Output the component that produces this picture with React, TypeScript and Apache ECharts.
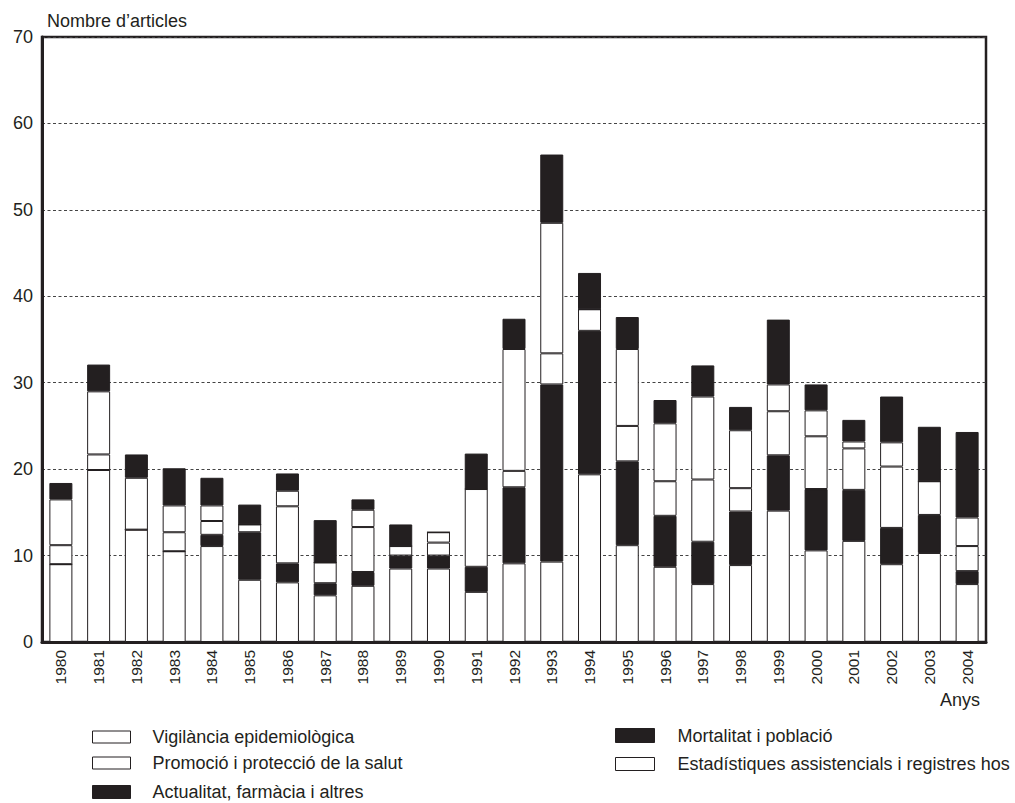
import React, { useEffect, useRef } from "react";
import * as echarts from "echarts";

const years = [
  "1980", "1981", "1982", "1983", "1984", "1985", "1986", "1987", "1988", "1989",
  "1990", "1991", "1992", "1993", "1994", "1995", "1996", "1997", "1998", "1999",
  "2000", "2001", "2002", "2003", "2004",
];

// Stack order, bottom to top
const vigilancia = [9.0, 19.9, 13.0, 10.5, 11.1, 7.2, 6.9, 5.4, 6.5, 8.5, 8.5, 5.8, 9.1, 9.3, 19.4, 11.2, 8.7, 6.7, 8.9, 15.2, 10.6, 11.7, 9.0, 10.3, 6.7];
const mortalitat = [0, 0, 0, 0, 1.3, 5.5, 2.2, 1.4, 1.6, 1.5, 1.5, 2.9, 8.8, 20.5, 16.6, 9.7, 5.9, 4.9, 6.2, 6.4, 7.1, 5.9, 4.2, 4.4, 1.5];
const estadistiques = [2.2, 1.8, 0, 2.2, 1.6, 0.9, 6.6, 2.4, 5.2, 1.1, 1.5, 9.0, 1.9, 3.6, 2.5, 4.1, 4.0, 7.2, 2.7, 5.1, 6.1, 4.8, 7.1, 3.9, 2.9];
const promocio = [5.3, 7.3, 6.0, 3.1, 1.8, 0, 1.8, 0, 2.0, 0, 1.2, 0, 14.1, 15.1, 0, 8.9, 6.7, 9.6, 6.7, 3.1, 3.0, 0.8, 2.8, 0, 3.3];
const actualitat = [1.9, 3.1, 2.7, 4.3, 3.2, 2.3, 2.0, 4.9, 1.2, 2.5, 0, 4.1, 3.5, 7.9, 4.2, 3.7, 2.7, 3.6, 2.7, 7.5, 3.0, 2.5, 5.3, 6.3, 9.9];

const NAME_VIG = "Vigilància epidemiològica";
const NAME_PROM = "Promoció i protecció de la salut";
const NAME_ACT = "Actualitat, farmàcia i altres";
const NAME_MORT = "Mortalitat i població";
const NAME_EST = "Estadístiques assistencials i registres hos";

const INK = "#231f20";
const FONT = "'Liberation Sans', Arial, Helvetica, sans-serif";

const whiteStyle = { color: "#ffffff", borderColor: INK, borderWidth: 1 };
const blackStyle = { color: INK, borderColor: INK, borderWidth: 1 };

export default function App() {
  const ref = useRef<HTMLDivElement>(null);

  useEffect(() => {
    if (!ref.current) return;
    const chart = echarts.init(ref.current, null, { renderer: "svg" });

    const mk = (name: string, data: number[], style: any) => ({
      name,
      type: "bar",
      stack: "total",
      barWidth: 23,
      data,
      itemStyle: style,
      emphasis: { disabled: true },
    });

    const oneLegend = (
      name: string,
      style: any,
      left: number,
      centerY: number,
      w: number,
      h: number,
      pad: number
    ) => ({
      orient: "vertical",
      left,
      top: centerY - 9,
      padding: 0,
      itemWidth: w,
      itemHeight: h,
      icon: "rect",
      selectedMode: false,
      textStyle: {
        fontSize: 18,
        lineHeight: 18,
        color: INK,
        fontFamily: FONT,
        padding: [0, 0, 0, pad],
      },
      data: [{ name, itemStyle: style }],
    });

    chart.setOption({
      animation: false,
      textStyle: { fontFamily: FONT, color: INK },
      grid: {
        left: 42,
        right: 29,
        top: 37,
        bottom: 161,
        show: true,
        borderColor: INK,
        borderWidth: 2.5,
        containLabel: false,
      },
      xAxis: {
        type: "category",
        data: years,
        axisLine: { lineStyle: { color: INK, width: 3 } },
        axisTick: { show: false },
        axisLabel: {
          rotate: 90,
          fontSize: 15.5,
          color: INK,
          fontFamily: FONT,
          margin: 8,
        },
      },
      yAxis: {
        type: "value",
        min: 0,
        max: 70,
        interval: 10,
        axisLine: { show: true, lineStyle: { color: INK, width: 3 } },
        axisTick: { show: false },
        axisLabel: { fontSize: 18, color: INK, fontFamily: FONT, margin: 9 },
        splitLine: { show: true, lineStyle: { color: "#444", width: 1, type: [3, 2.5] } },
      },
      legend: [
        oneLegend(NAME_VIG, whiteStyle, 92, 737, 38, 12, 17),
        oneLegend(NAME_PROM, whiteStyle, 92, 763, 38, 12, 17),
        oneLegend(NAME_ACT, blackStyle, 92, 792, 38, 13, 17),
        oneLegend(NAME_MORT, blackStyle, 615, 735.5, 39, 14, 18),
        oneLegend(NAME_EST, whiteStyle, 615, 764, 39, 13, 18),
      ],
      graphic: [
        {
          type: "text",
          left: 47,
          top: 12,
          style: { text: "Nombre d’articles", fontSize: 18, fill: INK, fontFamily: FONT },
        },
        {
          type: "text",
          left: 940,
          top: 691,
          style: { text: "Anys", fontSize: 18, fill: INK, fontFamily: FONT },
        },
      ],
      series: [
        mk(NAME_VIG, vigilancia, whiteStyle),
        mk(NAME_MORT, mortalitat, blackStyle),
        mk(NAME_EST, estadistiques, whiteStyle),
        mk(NAME_PROM, promocio, whiteStyle),
        mk(NAME_ACT, actualitat, blackStyle),
      ],
    });

    return () => chart.dispose();
  }, []);

  return (
    <div
      ref={ref}
      style={{ position: "fixed", left: 0, top: 0, width: 1015, height: 803, background: "#fff" }}
    />
  );
}
